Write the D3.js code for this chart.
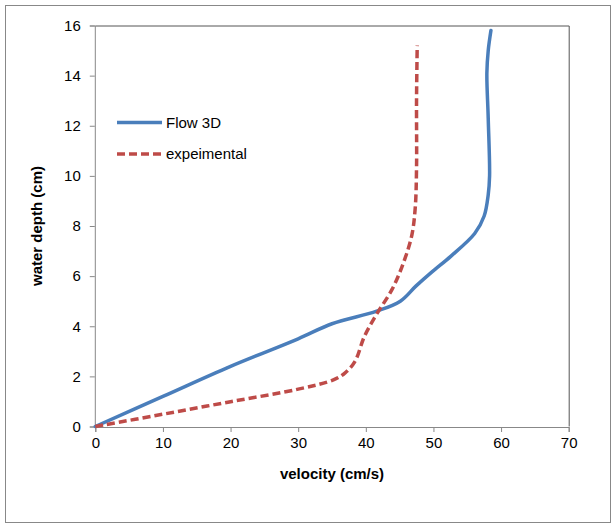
<!DOCTYPE html>
<html>
<head>
<meta charset="utf-8">
<script src="https://cdn.jsdelivr.net/npm/d3@7"></script>
<style>
  body { margin: 0; background: #fff; }
  text { font-family: "Liberation Sans", Arial, sans-serif; fill: #000; }
</style>
</head>
<body>
<div id="chart"></div>
<script>
// velocity profiles
var flowVel   = [0, 10, 20, 30, 35, 41.6, 45.1, 47.4, 49.7, 52.6, 56.1, 57.5, 58.1, 58.3, 58.1, 57.9, 58.1, 58.5];
var flowDepth = [0, 1.2, 2.4, 3.5, 4.1, 4.6, 5.0, 5.6, 6.15, 6.8, 7.7, 8.4, 9.25, 10.0, 12.3, 14.1, 15.0, 15.8];

var expVel   = [0, 10, 20, 30, 35.2, 36.9, 38.4, 39.8, 41.6, 43.9, 45.6, 46.8, 47.3, 47.5, 47.5, 47.6];
var expDepth = [0, 0.49, 0.99, 1.49, 1.86, 2.13, 2.6, 3.6, 4.48, 5.48, 6.56, 7.63, 8.7, 10.3, 13.0, 15.2];

var xTicks = [0, 10, 20, 30, 40, 50, 60, 70];
var yTicks = [0, 2, 4, 6, 8, 10, 12, 14, 16];

var seriesNames = ["Flow 3D", "expeimental"];
var seriesColors = ["#4A7EBB", "#BE4B48"];

(function(){
  var W = 615, H = 527;
  var left = 95.3, right = 568.7, top = 25.5, bottom = 426.5;

  var svg = d3.select("#chart").append("svg")
    .attr("width", W).attr("height", H);

  // outer frame
  svg.append("rect")
    .attr("x", 5.5).attr("y", 5.5)
    .attr("width", 605).attr("height", 517)
    .attr("fill", "#fff").attr("stroke", "#888").attr("stroke-width", 1);

  var x = d3.scaleLinear().domain([0, 70]).range([left, right]);
  var y = d3.scaleLinear().domain([0, 16]).range([bottom, top]);

  // plot box (top + right)
  svg.append("path")
    .attr("d", "M" + left + "," + (top + 0.5) + "H" + (right + 0.5) + "V" + bottom)
    .attr("fill", "none").attr("stroke", "#555").attr("stroke-width", 1);

  var xAxis = svg.append("g")
    .attr("transform", "translate(0," + (bottom + 0.5) + ")")
    .call(d3.axisBottom(x).tickValues(xTicks).tickSize(5).tickPadding(5));
  var yAxis = svg.append("g")
    .attr("transform", "translate(" + (left - 0.5) + ",0)")
    .call(d3.axisLeft(y).tickValues(yTicks).tickSize(5).tickPadding(9));

  [xAxis, yAxis].forEach(function(g){
    g.select(".domain").attr("stroke", "#888");
    g.selectAll(".tick line").attr("stroke", "#888");
    g.selectAll(".tick text")
      .style("font-family", "'Liberation Sans', Arial, sans-serif")
      .style("font-size", "15px").attr("fill", "#222");
  });

  // axis titles
  svg.append("text")
    .attr("x", (left + right) / 2).attr("y", 479)
    .attr("text-anchor", "middle")
    .style("font-size", "15px").style("font-weight", "bold")
    .text("velocity (cm/s)");
  svg.append("text")
    .attr("transform", "translate(42," + ((top + bottom) / 2) + ") rotate(-90)")
    .attr("text-anchor", "middle")
    .style("font-size", "15px").style("font-weight", "bold")
    .text("water depth (cm)");

  var line = d3.line()
    .x(function(d){ return x(d[0]); })
    .y(function(d){ return y(d[1]); })
    .curve(d3.curveCatmullRom.alpha(0.5));

  var flow = d3.zip(flowVel, flowDepth);
  var exp = d3.zip(expVel, expDepth);

  svg.append("path").datum(flow)
    .attr("d", line)
    .attr("fill", "none").attr("stroke", seriesColors[0])
    .attr("stroke-width", 3.5).attr("stroke-linecap", "round");

  svg.append("path").datum(exp)
    .attr("d", line)
    .attr("fill", "none").attr("stroke", seriesColors[1])
    .attr("stroke-width", 3.5).attr("stroke-dasharray", "8,4");

  // legend
  var legend = svg.append("g");
  var ly = [122.5, 154];
  seriesNames.forEach(function(name, i){
    legend.append("line")
      .attr("x1", 117).attr("x2", 162)
      .attr("y1", ly[i]).attr("y2", ly[i])
      .attr("stroke", seriesColors[i]).attr("stroke-width", 3.5)
      .attr("stroke-dasharray", i === 1 ? "8,4" : null);
    legend.append("text")
      .attr("x", 166).attr("y", ly[i] + 5)
      .style("font-size", "15px")
      .text(name);
  });
})();
</script>
</body>
</html>
